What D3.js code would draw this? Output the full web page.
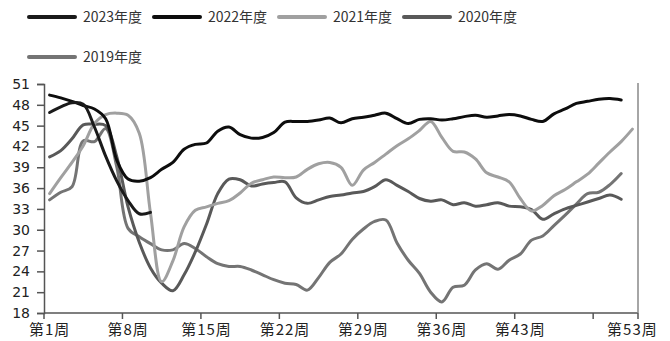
<!DOCTYPE html>
<html>
<head>
<meta charset="utf-8">
<script src="https://cdn.jsdelivr.net/npm/d3@7"></script>
<style>
  body { margin: 0; background: #fff; }
  svg { display: block; }
</style>
</head>
<body>
<script>
// weekly values
const weeks = d3.range(1, 54);
const tickWeeks = [1, 8, 15, 22, 29, 36, 43, 50];
const labelWeeks = [1, 8, 15, 22, 29, 36, 43, 53];
const yTicks = [18, 21, 24, 27, 30, 33, 36, 39, 42, 45, 48, 51];

const s2023 = [46.9, 47.7, 48.3, 48.1, 44.8, 40.6, 37.0, 34.2, 32.3, 32.5];

const s2022 = [49.4, 49.0, 48.5, 47.9, 47.4, 46.0, 40.0, 37.3, 37.0, 37.5,
  38.7, 39.7, 41.6, 42.3, 42.5, 44.2, 44.8, 43.7, 43.2, 43.3,
  44.0, 45.5, 45.6, 45.6, 45.8, 46.1, 45.4, 46.0, 46.2, 46.5,
  46.8, 46.0, 45.3, 45.9, 46.0, 45.8, 46.0, 46.3, 46.5, 46.2,
  46.4, 46.6, 46.4, 45.9, 45.6, 46.7, 47.4, 48.2, 48.5, 48.8,
  48.9, 48.7];

const s2021 = [35.2, 37.5, 39.7, 42.1, 45.3, 46.6, 46.8, 46.5, 43.9, 32.4,
  22.5, 25.5, 30.4, 32.8, 33.3, 33.8, 34.2, 35.3, 36.7, 37.2,
  37.6, 37.5, 37.6, 38.7, 39.5, 39.7, 39.0, 36.4, 38.6, 39.7,
  40.9, 42.1, 43.1, 44.3, 45.6, 43.3, 41.3, 41.2, 40.2, 38.2,
  37.6, 36.9, 34.5, 32.7, 33.5, 34.9, 35.8, 36.9, 38.0, 39.6,
  41.2, 42.7, 44.5];

const s2020 = [40.5, 41.4, 43.1, 45.1, 45.2, 45.0, 40.5, 33.3, 28.2, 24.5,
  22.3, 21.2, 23.5, 26.8, 30.8, 35.2, 37.3, 37.2, 36.3, 36.6,
  36.8, 36.9, 34.6, 33.8, 34.3, 34.8, 35.0, 35.3, 35.5, 36.2,
  37.2, 36.4, 35.5, 34.5, 34.1, 34.3, 33.6, 33.9, 33.4, 33.6,
  33.9, 33.4, 33.3, 32.9, 31.5, 32.3, 33.0, 33.5, 34.0, 34.5,
  35.0, 34.4];

const s2019 = [34.3, 35.4, 36.2, 42.8, 42.7, 44.6, 39.0, 30.2, 29.0, 28.0,
  27.1, 27.1, 28.0, 27.3, 26.1, 25.1, 24.7, 24.7, 24.2, 23.5,
  22.8, 22.3, 22.1, 21.3, 23.1, 25.3, 26.5, 28.6, 30.1, 31.2,
  31.4, 28.1, 25.6, 23.7, 21.0, 19.6, 21.7, 22.0, 24.2, 25.1,
  24.3, 25.6, 26.5, 28.5, 29.1, 30.6, 32.1, 33.7, 35.2, 35.4,
  36.5, 38.1];

const seriesNames = ['2023年度', '2022年度', '2021年度', '2020年度', '2019年度'];
const seriesData = [s2023, s2022, s2021, s2020, s2019];
const seriesColors = ['#1a1a1a', '#0d0d0d', '#a0a0a0', '#595959', '#747474'];

const width = 670;
const height = 341;
const plot = {left: 44, right: 638, top: 84, bottom: 313};

const svg = d3.select('body')
  .append('svg')
  .attr('width', width)
  .attr('height', height);

const x = d3.scaleBand()
  .domain(weeks)
  .range([plot.left, plot.right]);

const y = d3.scaleLinear()
  .domain([18, 51])
  .range([plot.bottom, plot.top]);

const axisColor = '#555';
const textColor = '#222';

// y axis
const yAxis = svg.append('g')
  .attr('transform', 'translate(' + plot.left + ',0)')
  .call(d3.axisLeft(y).tickValues(yTicks).tickSize(7).tickPadding(7));
yAxis.select('.domain').attr('stroke', axisColor).attr('stroke-width', 1.5);
yAxis.selectAll('.tick line').attr('stroke', axisColor).attr('stroke-width', 1.5);
yAxis.selectAll('.tick text')
  .attr('fill', textColor)
  .style('font-family', '"DejaVu Sans", sans-serif')
  .style('font-size', '14px');

// x axis (category axis, ticks between weeks)
const xAxis = svg.append('g');
xAxis.append('line')
  .attr('x1', plot.left).attr('x2', plot.right)
  .attr('y1', plot.bottom).attr('y2', plot.bottom)
  .attr('stroke', axisColor).attr('stroke-width', 1.5);

xAxis.selectAll('.xtick')
  .data(tickWeeks.map(w => x(w)).concat([plot.right]))
  .enter().append('line')
  .attr('class', 'xtick')
  .attr('x1', d => d).attr('x2', d => d)
  .attr('y1', plot.bottom).attr('y2', plot.bottom + 6)
  .attr('stroke', axisColor).attr('stroke-width', 1.5);

xAxis.selectAll('.xlabel')
  .data(labelWeeks)
  .enter().append('text')
  .attr('class', 'xlabel')
  .attr('x', d => x(d) + x.bandwidth() / 2)
  .attr('y', 330)
  .attr('dy', '0.35em')
  .attr('text-anchor', 'middle')
  .attr('fill', textColor)
  .style('font-family', '"Noto Sans CJK SC", sans-serif')
  .style('font-size', '15px')
  .style('letter-spacing', '1px')
  .text(d => '第' + d + '周');

// right border line
svg.append('line')
  .attr('x1', plot.right).attr('x2', plot.right)
  .attr('y1', plot.top - 1).attr('y2', plot.bottom)
  .attr('stroke', '#888').attr('stroke-width', 1.5);

// lines
const line = d3.line()
  .x((d, i) => x(weeks[i]) + x.bandwidth() / 2)
  .y(d => y(d))
  .curve(d3.curveCatmullRom.alpha(0.5));

const drawOrder = [4, 3, 2, 1, 0];
svg.append('g')
  .attr('class', 'lines')
  .selectAll('path')
  .data(drawOrder)
  .enter().append('path')
  .attr('d', i => line(seriesData[i]))
  .attr('fill', 'none')
  .attr('stroke', i => seriesColors[i])
  .attr('stroke-width', 3)
  .attr('stroke-linejoin', 'round')
  .attr('stroke-linecap', 'round');

// legend
const legendPos = [[29, 17], [154, 17], [279, 17], [404, 17], [29, 57]];
const legend = svg.append('g')
  .attr('class', 'legend')
  .selectAll('g')
  .data(seriesNames)
  .enter().append('g')
  .attr('transform', (d, i) => 'translate(' + legendPos[i][0] + ',' + legendPos[i][1] + ')');

legend.append('line')
  .attr('x1', 0).attr('x2', 46)
  .attr('y1', 0).attr('y2', 0)
  .attr('stroke', (d, i) => seriesColors[i])
  .attr('stroke-width', 4)
  .attr('stroke-linecap', 'round');

legend.append('text')
  .attr('x', 54)
  .attr('y', 0)
  .attr('dy', '0.35em')
  .attr('fill', '#333')
  .style('font-family', '"Noto Sans CJK SC", sans-serif')
  .style('font-size', '14px')
  .text(d => d);
</script>
</body>
</html>
